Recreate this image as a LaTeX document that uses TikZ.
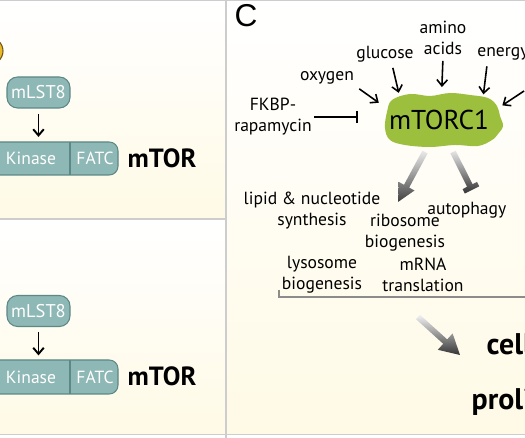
\documentclass[tikz,border=0pt]{standalone}
\usepackage{fontspec}
\setmainfont{PT Sans}
\newfontfamily\panelfont{Liberation Sans}
\usetikzlibrary{arrows.meta,shapes.geometric}

\definecolor{tealfill}{RGB}{142,184,181}
\definecolor{tealline}{RGB}{92,136,133}
\definecolor{blobgreen}{RGB}{156,192,62}
\definecolor{cream}{RGB}{255,250,230}
\definecolor{panelgray}{RGB}{205,205,205}
\definecolor{goldfill}{RGB}{232,185,42}
\definecolor{goldline}{RGB}{110,85,20}

\begin{document}
\begin{tikzpicture}[x=0.02cm, y=-0.02cm, line width=0.8pt,
    protbox/.style={fill=tealfill, draw=tealline, line width=0.6pt},
    dtext/.style={text=white, font=\fontsize{10}{12}\selectfont, inner sep=0pt},
    mlst/.style={protbox, dtext, font=\fontsize{10.5}{12}\selectfont, rounded corners=6pt,
                 minimum width=1.26cm, minimum height=0.62cm},
    kinbox/.style={dtext, minimum height=0.66cm},
    protname/.style={font=\fontsize{15}{17}\selectfont\bfseries, inner sep=0pt},
    outcome/.style={font=\fontsize{17}{19}\selectfont\bfseries, inner sep=0pt, anchor=west},
    signal/.style={font=\fontsize{10}{12}\selectfont, align=center, inner sep=1pt},
    effect/.style={signal},
    link/.style={-{Straight Barb[length=3.5pt,width=6pt]}, line width=1.1pt, shorten <=3pt, shorten >=2.5pt},
    act/.style={-{Straight Barb[length=3.5pt,width=6pt]}, line width=0.9pt, shorten <=2pt},
    inhib/.style={-{Bar[width=7pt]}, line width=1pt},
    panelline/.style={draw=panelgray, line width=0.6pt}
]
\useasboundingbox (0,0) rectangle (525,438);
\clip (0,0) rectangle (525,438);

% --- Hintergrund der Felder ---
\fill[white] (0,0) rectangle (525,438);
\shade[top color=white, bottom color=cream] (0,0) rectangle (226,219);
\shade[top color=white, bottom color=cream] (0,219) rectangle (226,434.5);
\shade[top color=white, bottom color=cream] (226,0) rectangle (525,434.5);
\draw[panelline] (0,0.5) -- (525,0.5);
\draw[panelline] (226,0) -- (226,438);
\draw[panelline] (0,219) -- (226,219);
\draw[panelline] (0,434.5) -- (525,434.5);

% --- Feld oben links ---
\draw[fill=goldfill, draw=goldline, line width=0.6pt] (-12,51) ellipse [x radius=15, y radius=14];
\node[mlst] (mlst1) at (38.5,92.5) {mLST8};
\filldraw[protbox] (-10,142) -- (70,142) [rounded corners=5pt] -- (118,142) -- (118,175) -- (70,175) [sharp corners] -- (-10,175) -- cycle;
\draw[tealline, line width=0.6pt] (70,142) -- (70,175);
\node[kinbox] (kin1) at (31,158.5) {Kinase};
\node[kinbox] (fatc1) at (95,158.5) {FATC};
\node[protname, anchor=west] (mtor1) at (127,158) {mTOR};
\draw[link] (mlst1.south) -- (mlst1.south |- kin1.north);

% --- Feld unten links ---
\node[mlst] (mlst2) at (38.5,311) {mLST8};
\filldraw[protbox] (-10,360) -- (70,360) [rounded corners=5pt] -- (118,360) -- (118,394) -- (70,394) [sharp corners] -- (-10,394) -- cycle;
\draw[tealline, line width=0.6pt] (70,360) -- (70,394);
\node[kinbox] (kin2) at (31,377) {Kinase};
\node[kinbox] (fatc2) at (95,377) {FATC};
\node[protname, anchor=west] (mtor2) at (127,376) {mTOR};
\draw[link] (mlst2.south) -- (mlst2.south |- kin2.north);

% --- Feld C ---
\node[font=\panelfont\fontsize{18}{20}\selectfont, inner sep=0pt] (lblC) at (246,16) {C};

% mTORC1 (Wolke)
\fill[blobgreen] plot[smooth cycle, tension=0.6] coordinates {
  (392,100) (410,94) (430,96) (450,93) (470,95) (488,98) (497,106) (500,116)
  (503,126) (498,134) (492,140) (478,146) (455,145) (430,147) (405,145)
  (390,140) (385,128) (387,112)};
\node[ellipse, font=\fontsize{15.5}{17}\selectfont, minimum width=2.8cm, minimum height=1.32cm,
      inner sep=0pt, outer sep=0pt] (mtorc) at (439,120) {mTORC1};

% Eingaenge
\node[signal] (amino) at (443,38) {amino\\acids};
\node[signal] (gluc) at (385,54) {glucose};
\node[signal, anchor=west] (energy) at (475,54) {energy};
\node[signal] (oxy) at (327,78) {oxygen};
\node[signal] (fkbp) at (273,117) {FKBP-\\rapamycin};
\coordinate (offright) at (527,89);

\draw[act] (oxy.south east) -- (mtorc.164);
\draw[act] ([xshift=4pt]gluc.south) -- (mtorc.146);
\draw[act] (amino.south) -- (mtorc.85);
\draw[act] ([xshift=7pt]energy.south west) -- (mtorc.30);
\draw[act] (offright) -- (mtorc.13);
\draw[inhib, shorten >=6pt] (fkbp.east) -- (fkbp.east -| mtorc.west);

% Ausgaenge
\shade[top color=black!8, bottom color=black!75] (427.6,153.4) -- (409.2,187.6) -- (414.5,190.5) -- (398,202)
  -- (398.7,181.9) -- (404,184.8) -- (422.4,150.6) -- cycle;
\shade[top color=black!10, bottom color=black!80] (455.7,150.7) -- (472.5,184.2) -- (477,181.9) -- (479.2,186.4)
  -- (464.8,193.6) -- (462.6,189.1) -- (467.1,186.8) -- (450.3,153.3) -- cycle;

\node[effect] (lipid) at (312,211) {lipid \& nucleotide\\synthesis};
\node[effect] (ribo) at (405,233) {ribosome\\biogenesis};
\node[effect, anchor=west] (autoph) at (425,210) {autophagy};
\node[effect] (lyso) at (322,275) {lysosome\\biogenesis};
\node[effect] (mrna) at (423,275) {mRNA\\translation};
\draw[draw=black!45, line width=0.6pt] (279,290) -- (279,297) -- (527,297);

\shade[top color=black!5, bottom color=black!80] (420,314.8) -- (447.2,339.4) -- (452.6,333.4) -- (460,355)
  -- (437.8,349.8) -- (443.2,343.8) -- (416,319.2) -- cycle;
\node[outcome] (cell) at (486,344) {cell};
\node[outcome] (prolif) at (471,402) {proliferation};

\end{tikzpicture}
\end{document}
